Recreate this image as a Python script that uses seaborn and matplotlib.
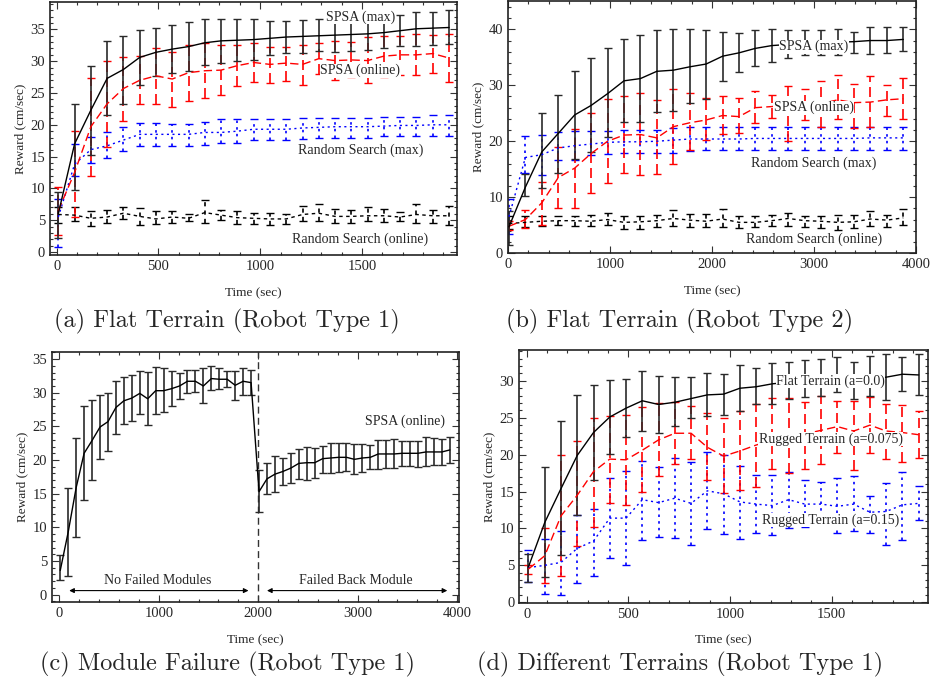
import numpy as np
import matplotlib
matplotlib.use("Agg")
import matplotlib.pyplot as plt
import seaborn as sns
from matplotlib.ticker import MultipleLocator

sns.set_style("ticks")
plt.rcParams['font.family'] = ['Liberation Serif', 'DejaVu Serif']

# ---- (a) flat terrain, robot type 1 ----
t_a = [8 + 80 * i for i in range(25)]
a_spsa_max = [6.0, 17.0, 22.3, 27.3, 28.7, 30.6, 31.4, 31.9, 32.3, 32.9, 33.2, 33.3, 33.4,
              33.6, 33.8, 33.9, 34.0, 34.1, 34.2, 34.3, 34.5, 34.8, 35.1, 35.2, 35.3]
a_spsa_max_lo = [2.2, 9.7, 15.2, 21.5, 23.3, 26.3, 27.6, 28.2, 28.5, 29.4, 29.7, 30.1, 30.2,
                 31.0, 31.3, 31.3, 31.6, 31.5, 31.6, 31.8, 32.0, 32.4, 32.4, 32.6, 32.7]
a_spsa_max_hi = [9.5, 23.3, 29.3, 33.1, 34.0, 34.9, 35.2, 35.7, 36.2, 36.6, 36.7, 36.6, 36.6,
                 36.3, 36.4, 36.5, 36.6, 36.1, 36.3, 36.6, 36.9, 37.3, 37.7, 37.8, 38.0]
a_spsa_on = [6.5, 12.5, 19.7, 23.3, 25.7, 27.0, 27.7, 27.2, 28.2, 28.5, 28.6, 29.3, 29.8,
             29.5, 29.7, 29.5, 30.4, 30.1, 30.2, 30.1, 30.8, 31.0, 31.0, 31.2, 30.5]
a_spsa_on_lo = [2.7, 5.5, 12.0, 16.5, 20.6, 23.3, 23.2, 22.8, 23.8, 24.2, 24.7, 26.1, 26.7,
                26.6, 26.9, 26.2, 28.0, 27.0, 27.5, 26.6, 27.5, 27.8, 27.9, 28.2, 26.8]
a_spsa_on_hi = [10.2, 19.1, 27.3, 30.0, 30.6, 30.8, 32.0, 31.5, 32.5, 32.8, 32.5, 32.5, 32.8,
                32.2, 32.3, 32.6, 32.9, 33.1, 33.0, 33.8, 34.0, 33.9, 34.2, 34.1, 34.2]
a_rs_max = [5.5, 13.8, 16.1, 16.7, 17.6, 18.5, 18.5, 18.5, 18.5, 18.8, 18.8, 19.0, 19.3,
            19.3, 19.3, 19.5, 19.6, 19.7, 19.7, 19.7, 19.8, 19.9, 19.9, 20.0, 20.0]
a_rs_max_lo = [0.8, 11.9, 14.0, 14.8, 15.9, 16.6, 16.6, 16.6, 16.6, 16.8, 17.1, 17.2, 17.6,
               17.6, 17.6, 17.8, 17.9, 17.9, 17.9, 17.9, 18.2, 18.2, 18.2, 18.2, 18.2]
a_rs_max_hi = [8.3, 17.0, 18.1, 18.9, 19.6, 20.3, 20.3, 20.2, 20.2, 20.5, 20.9, 20.9, 20.9,
               20.9, 20.9, 21.0, 21.0, 21.0, 21.0, 21.0, 21.3, 21.3, 21.3, 21.5, 21.5]
a_rs_on = [5.9, 5.8, 5.3, 5.5, 6.1, 5.6, 5.2, 5.5, 5.3, 6.2, 5.8, 5.4, 5.3,
           5.2, 5.2, 5.9, 6.1, 5.6, 5.6, 5.7, 5.7, 5.5, 5.9, 5.7, 5.7]
a_rs_on_lo = [4.6, 4.8, 4.1, 4.6, 5.2, 4.3, 4.4, 4.6, 4.8, 4.5, 5.0, 4.4, 4.4,
              4.3, 4.4, 4.8, 4.8, 4.5, 4.6, 4.8, 4.7, 4.8, 4.5, 4.6, 4.3]
a_rs_on_hi = [7.0, 7.0, 6.4, 6.6, 7.0, 6.9, 6.4, 6.5, 5.9, 8.1, 6.6, 6.5, 6.2,
              6.1, 6.0, 7.3, 7.5, 6.7, 6.6, 7.0, 6.8, 6.3, 7.6, 6.6, 7.3]

# ---- (b) flat terrain, robot type 2 ----
t_b = [10 + 161 * i for i in range(25)]
b_spsa_max = [4.7, 11.8, 18.1, 21.4, 24.7, 26.4, 28.5, 30.8, 31.2, 32.5, 32.7, 33.3, 33.8,
              35.2, 35.8, 36.6, 37.1, 37.3, 37.5, 37.6, 37.7, 37.8, 38.0, 38.0, 38.2]
b_spsa_max_lo = [1.5, 10.3, 11.7, 14.3, 16.8, 18.0, 20.7, 23.4, 23.5, 25.2, 25.4, 26.8, 27.6,
                 30.8, 32.3, 33.4, 34.2, 34.9, 35.4, 35.4, 35.5, 35.7, 35.6, 35.8, 36.1]
b_spsa_max_hi = [7.5, 14.2, 25.0, 28.2, 32.5, 34.9, 36.7, 38.2, 39.0, 39.8, 40.0, 40.0, 39.9,
                 39.6, 39.3, 39.8, 40.0, 39.8, 39.8, 39.9, 40.0, 39.5, 40.5, 40.5, 40.4]
b_spsa_on = [4.8, 6.0, 9.0, 13.5, 15.2, 17.8, 20.0, 21.1, 21.2, 20.6, 22.6, 23.3, 23.8,
             24.6, 24.4, 26.0, 26.2, 26.5, 26.5, 26.7, 27.4, 26.9, 27.0, 27.4, 27.6]
b_spsa_on_lo = [4.2, 4.5, 5.0, 8.0, 8.1, 10.7, 12.5, 14.3, 13.9, 14.1, 16.0, 18.4, 20.2,
                21.3, 21.5, 23.2, 24.2, 20.0, 23.8, 22.6, 23.9, 22.3, 22.6, 24.6, 23.9]
b_spsa_on_hi = [5.8, 7.7, 12.8, 19.0, 22.1, 25.0, 27.5, 28.1, 28.6, 27.3, 29.4, 28.7, 27.8,
                28.1, 27.7, 28.9, 28.2, 29.8, 29.4, 30.7, 31.8, 30.2, 31.6, 30.1, 31.3]
b_rs_max = [6.5, 17.1, 17.6, 18.8, 19.2, 19.5, 19.8, 19.9, 19.9, 20.0, 20.2, 20.4, 20.4,
            20.4, 20.4, 20.5, 20.5, 20.5, 20.5, 20.5, 20.5, 20.5, 20.6, 20.6, 20.6]
b_rs_max_lo = [3.5, 14.4, 14.0, 16.7, 16.7, 17.5, 17.7, 17.9, 17.9, 17.9, 17.9, 18.3, 18.4,
               18.4, 18.4, 18.4, 18.4, 18.4, 18.4, 18.4, 18.4, 18.4, 18.5, 18.5, 18.5]
b_rs_max_hi = [9.7, 20.9, 21.2, 21.7, 21.8, 21.8, 21.9, 22.0, 22.0, 22.0, 22.3, 22.5, 22.6,
               22.6, 22.6, 22.6, 22.6, 22.6, 22.6, 22.6, 22.6, 22.6, 22.6, 22.6, 22.6]
b_rs_on = [5.3, 5.5, 5.7, 5.8, 5.8, 5.7, 6.0, 5.5, 5.6, 5.8, 6.2, 5.9, 5.7,
           6.1, 5.5, 5.5, 5.8, 6.2, 5.8, 5.7, 5.5, 5.6, 6.1, 5.9, 6.3]
b_rs_on_lo = [4.3, 4.6, 4.8, 5.0, 4.8, 4.8, 5.0, 4.4, 4.4, 4.7, 4.8, 4.7, 4.6,
              4.6, 4.5, 4.6, 4.8, 4.8, 4.7, 4.5, 4.1, 4.5, 4.8, 4.6, 5.1]
b_rs_on_hi = [6.6, 6.6, 6.6, 6.6, 6.7, 6.8, 7.1, 6.6, 6.7, 6.8, 7.7, 7.0, 7.0,
              7.8, 6.6, 6.7, 6.8, 7.1, 6.7, 6.6, 6.9, 6.8, 7.6, 6.9, 7.8]

# ---- (c) module failure ----
t_c = [8 + 80 * i for i in range(50)]
c_spsa = [3.6, 9.3, 15.9, 21.0, 22.9, 24.9, 25.7, 27.8, 28.8, 29.2, 29.9, 29.1, 30.3,
          30.3, 30.6, 31.0, 31.7, 31.7, 31.0, 32.1, 32.0, 32.0, 31.1, 31.7, 31.5,
          15.3, 17.2, 17.9, 18.3, 18.8, 19.5, 19.6, 19.6, 20.2, 20.3, 20.4, 20.4, 20.1,
          20.3, 20.4, 20.9, 20.9, 20.9, 21.0, 21.0, 21.0, 21.2, 21.2, 21.2, 21.5]
c_spsa_lo = [2.1, 2.8, 8.6, 14.0, 17.0, 20.2, 21.4, 23.8, 25.4, 25.8, 26.8, 25.2, 26.8,
             27.1, 28.0, 29.1, 29.9, 30.1, 28.5, 30.4, 30.6, 30.9, 28.9, 29.7, 29.7,
             12.3, 14.9, 15.3, 16.3, 16.6, 17.2, 17.1, 17.3, 18.1, 18.1, 18.2, 18.3, 17.9,
             18.2, 18.6, 18.7, 18.8, 18.8, 19.1, 19.1, 19.0, 19.1, 19.2, 19.3, 19.6]
c_spsa_hi = [5.9, 15.8, 23.2, 28.0, 28.9, 29.6, 30.0, 31.7, 32.3, 32.6, 33.2, 33.1, 33.8,
             33.6, 33.2, 32.9, 33.4, 33.4, 33.6, 33.9, 33.6, 33.2, 33.3, 33.7, 33.4,
             18.5, 19.6, 20.6, 20.3, 21.0, 21.7, 21.9, 21.8, 22.1, 22.6, 22.6, 22.6, 22.4,
             22.4, 22.2, 23.0, 23.0, 23.1, 22.9, 22.9, 22.8, 23.4, 23.2, 23.1, 23.4]

# ---- (d) different terrains ----
t_d = [8 + 80 * i for i in range(25)]
d_flat = [4.8, 10.8, 15.4, 19.9, 23.0, 25.1, 26.3, 27.3, 26.8, 27.1, 27.6, 28.1, 28.2,
          29.0, 29.2, 29.6, 29.8, 29.9, 30.0, 30.1, 30.0, 30.2, 30.5, 30.9, 30.8]
d_flat_lo = [2.8, 3.4, 6.4, 11.8, 16.5, 20.1, 22.4, 23.2, 23.0, 23.9, 24.9, 25.3, 25.4,
             25.9, 26.8, 26.8, 27.5, 27.8, 28.0, 28.5, 27.6, 28.0, 27.4, 28.6, 28.1]
d_flat_hi = [6.5, 18.3, 24.6, 28.1, 29.5, 30.1, 30.2, 31.4, 30.6, 30.5, 30.5, 31.1, 30.9,
             32.1, 31.8, 32.4, 32.6, 32.8, 33.0, 33.3, 32.5, 33.4, 33.6, 33.3, 33.6]
d_r075 = [4.5, 6.3, 11.7, 14.5, 17.7, 19.4, 19.3, 20.6, 22.0, 22.9, 22.9, 21.0, 19.8,
          20.5, 21.3, 22.0, 22.5, 22.8, 23.3, 23.8, 23.2, 24.0, 23.2, 23.0, 22.7]
d_r075_lo = [3.8, 2.6, 3.6, 7.6, 10.2, 13.5, 13.2, 14.9, 17.1, 18.7, 19.4, 16.5, 14.8,
             15.2, 15.6, 18.0, 17.5, 18.0, 18.7, 20.2, 17.9, 20.2, 19.4, 19.0, 19.6]
d_r075_hi = [5.1, 10.0, 19.9, 21.8, 25.0, 25.2, 25.4, 26.5, 27.0, 27.1, 26.6, 25.6, 24.9,
             25.9, 26.8, 27.7, 27.7, 27.2, 27.9, 27.3, 27.3, 27.8, 26.9, 26.7, 25.9]
d_r15 = [4.7, 5.0, 5.4, 7.3, 8.3, 11.4, 11.4, 13.9, 13.5, 14.1, 13.4, 15.1, 14.7,
         13.6, 13.3, 13.1, 13.9, 13.3, 13.3, 13.0, 13.3, 12.2, 12.3, 13.2, 13.4]
d_r15_lo = [2.8, 1.1, 1.0, 2.6, 3.6, 6.0, 5.0, 8.5, 8.8, 8.7, 7.7, 9.9, 9.3,
            8.6, 9.4, 9.1, 10.0, 10.2, 10.6, 9.4, 9.6, 9.4, 7.8, 8.4, 11.1]
d_r15_hi = [7.1, 8.6, 9.6, 11.8, 12.7, 16.8, 17.8, 19.2, 18.3, 19.5, 19.0, 20.4, 20.0,
            18.4, 17.2, 17.2, 17.6, 16.6, 16.3, 16.9, 17.1, 14.4, 16.1, 17.7, 15.8]

RED = '#ff0000'
BLUE = '#0000ff'
DASH = {'solid': None, 'dash': (6, 3), 'dot': (1.5, 2.5), 'short': (2.5, 2.5)}


def series(ax, t, m, lo, hi, color, style):
    m = np.array(m)
    yerr = [m - np.array(lo), np.array(hi) - m]
    ecol = '#2a2a2a' if (color == 'black' and style == 'solid') else color
    eb = ax.errorbar(t, m, yerr=yerr, fmt='none', ecolor=ecol, elinewidth=1.2,
                     capsize=3, capthick=1.0, zorder=2)
    sns.lineplot(x=t, y=m, ax=ax, color=color, lw=1.0, zorder=3)
    line = ax.lines[-1]
    if DASH[style] is not None:
        line.set_dashes(DASH[style])
        eb[2][0].set_linestyle((0, DASH[style]))


def label(ax, x, y, s):
    ax.text(x, y, s, ha='center', va='center', fontsize=10, zorder=5,
            bbox=dict(facecolor='white', edgecolor='none', pad=0.3))


def style_axes(ax, xmaj, xmin, ymaj, ymin):
    ax.xaxis.set_major_locator(MultipleLocator(xmaj))
    ax.xaxis.set_minor_locator(MultipleLocator(xmin))
    ax.yaxis.set_major_locator(MultipleLocator(ymaj))
    ax.yaxis.set_minor_locator(MultipleLocator(ymin))
    ax.tick_params(which='both', direction='in', top=True, right=True, labelsize=10.5,
                   color='#333333', width=0.8)
    ax.tick_params(which='major', length=5)
    ax.tick_params(which='minor', length=2.5)
    for sp in ax.spines.values():
        sp.set_linewidth(1.2)
        sp.set_color('#222222')
    ax.set_xlabel('Time (sec)', fontsize=9.5, labelpad=10)
    ax.set_ylabel('Reward (cm/sec)', fontsize=9.5, labelpad=3)


fig = plt.figure(figsize=(9.32, 6.86), dpi=100)
ax_a = fig.add_axes([0.0536, 0.628, 0.4367, 0.369])
ax_b = fig.add_axes([0.545, 0.631, 0.438, 0.367])
ax_c = fig.add_axes([0.0558, 0.1224, 0.4367, 0.364])
ax_d = fig.add_axes([0.557, 0.121, 0.439, 0.369])

# (a)
series(ax_a, t_a, a_rs_on, a_rs_on_lo, a_rs_on_hi, 'black', 'short')
series(ax_a, t_a, a_rs_max, a_rs_max_lo, a_rs_max_hi, BLUE, 'dot')
series(ax_a, t_a, a_spsa_on, a_spsa_on_lo, a_spsa_on_hi, RED, 'dash')
series(ax_a, t_a, a_spsa_max, a_spsa_max_lo, a_spsa_max_hi, 'black', 'solid')
ax_a.set_xlim(-33, 1967)
ax_a.set_ylim(-0.5, 39.3)
style_axes(ax_a, 500, 100, 5, 1)
label(ax_a, 1492, 36.9, 'SPSA (max)')
label(ax_a, 1492, 28.5, 'SPSA (online)')
label(ax_a, 1492, 16.0, 'Random Search (max)')
label(ax_a, 1492, 2.0, 'Random Search (online)')

# (b)
series(ax_b, t_b, b_rs_on, b_rs_on_lo, b_rs_on_hi, 'black', 'short')
series(ax_b, t_b, b_rs_max, b_rs_max_lo, b_rs_max_hi, BLUE, 'dot')
series(ax_b, t_b, b_spsa_on, b_spsa_on_lo, b_spsa_on_hi, RED, 'dash')
series(ax_b, t_b, b_spsa_max, b_spsa_max_lo, b_spsa_max_hi, 'black', 'solid')
ax_b.set_xlim(0, 4000)
ax_b.set_ylim(0, 45)
style_axes(ax_b, 1000, 200, 10, 2)
label(ax_b, 2995, 36.9, 'SPSA (max)')
label(ax_b, 2995, 26.0, 'SPSA (online)')
label(ax_b, 2995, 16.0, 'Random Search (max)')
label(ax_b, 2995, 2.4, 'Random Search (online)')

# (c)
series(ax_c, t_c, c_spsa, c_spsa_lo, c_spsa_hi, 'black', 'solid')
ax_c.axvline(2000, color='#333333', lw=1.0, ls=(0, (5, 3)), zorder=1)
ax_c.set_xlim(-75, 4020)
ax_c.set_ylim(-1.1, 36)
style_axes(ax_c, 1000, 200, 5, 1)
ax_c.annotate('', xy=(70, 0.6), xytext=(1930, 0.6),
              arrowprops=dict(arrowstyle='<|-|>', color='black', lw=0.8, mutation_scale=7))
ax_c.annotate('', xy=(2060, 0.6), xytext=(3930, 0.6),
              arrowprops=dict(arrowstyle='<|-|>', color='black', lw=0.8, mutation_scale=7))
ax_c.text(990, 2.1, 'No Failed Modules', ha='center', va='center', fontsize=10)
ax_c.text(2985, 2.1, 'Failed Back Module', ha='center', va='center', fontsize=10)
ax_c.text(3479, 25.8, 'SPSA (online)', ha='center', va='center', fontsize=10)

# (d)
series(ax_d, t_d, d_r15, d_r15_lo, d_r15_hi, BLUE, 'dot')
series(ax_d, t_d, d_r075, d_r075_lo, d_r075_hi, RED, 'dash')
series(ax_d, t_d, d_flat, d_flat_lo, d_flat_hi, 'black', 'solid')
ax_d.set_xlim(-38, 1975)
ax_d.set_ylim(-0.1, 34.2)
style_axes(ax_d, 500, 100, 5, 1)
label(ax_d, 1494, 30.0, 'Flat Terrain (a=0.0)')
label(ax_d, 1494, 22.1, 'Rugged Terrain (a=0.075)')
label(ax_d, 1494, 11.1, 'Rugged Terrain (a=0.15)')

# captions
cap = dict(ha='center', va='center', fontsize=17.5, family='cmr10')
fig.text(227 / 932, 1 - 321 / 686, '(a) Flat Terrain (Robot Type 1)', **cap)
fig.text(680 / 932, 1 - 321 / 686, '(b) Flat Terrain (Robot Type 2)', **cap)
fig.text(227 / 932, 1 - 664 / 686, '(c) Module Failure (Robot Type 1)', **cap)
fig.text(680 / 932, 1 - 664 / 686, '(d) Different Terrains (Robot Type 1)', **cap)

fig.savefig('out.png', dpi=100)
